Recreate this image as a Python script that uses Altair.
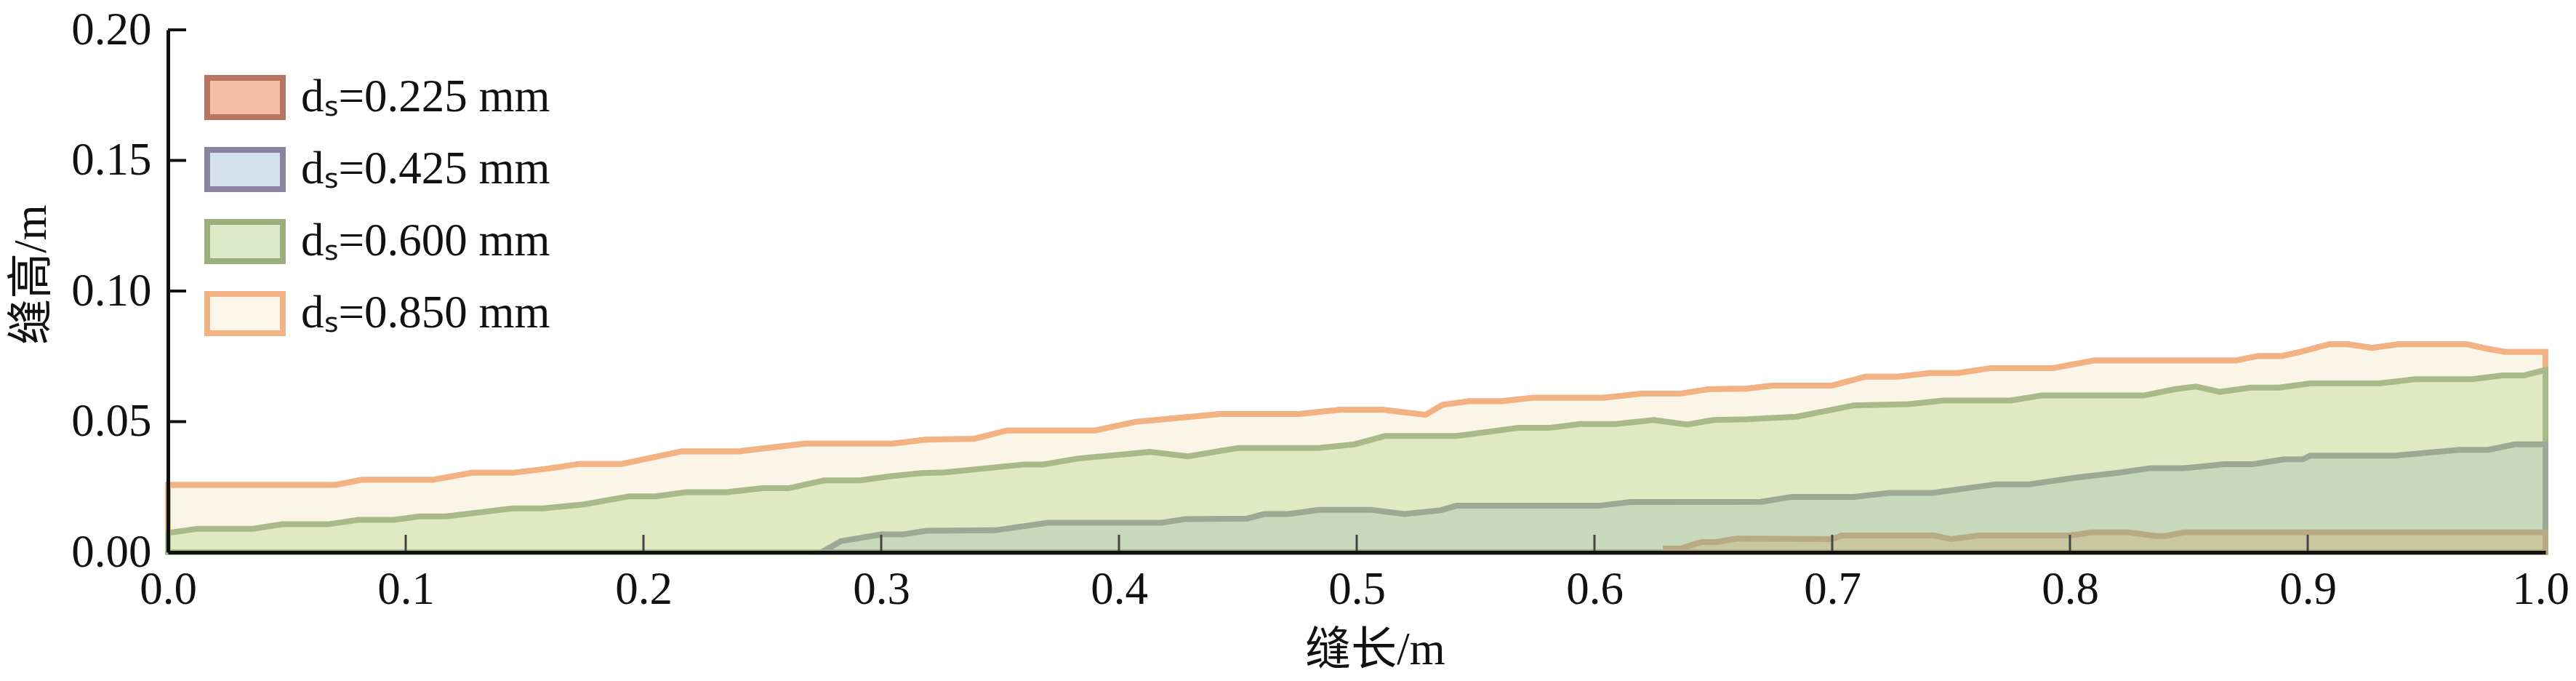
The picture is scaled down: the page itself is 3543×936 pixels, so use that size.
import altair as alt
import pandas as pd

# ---------------- data ----------------
labels = ["dₛ=0.225 mm", "dₛ=0.425 mm", "dₛ=0.600 mm", "dₛ=0.850 mm"]

x_850 = [0.0, 0.0706, 0.0814, 0.1115, 0.128, 0.145, 0.160, 0.173, 0.191, 0.216, 0.240, 0.268,
         0.305, 0.319, 0.339, 0.353, 0.390, 0.407, 0.424, 0.443, 0.476, 0.493, 0.511, 0.529,
         0.536, 0.547, 0.561, 0.574, 0.604, 0.620, 0.636, 0.648, 0.664, 0.675, 0.700, 0.714,
         0.728, 0.741, 0.753, 0.767, 0.793, 0.810, 0.870, 0.879, 0.889, 0.897, 0.909, 0.917,
         0.927, 0.938, 0.967, 0.975, 0.983, 1.0]
y_850 = [0.0258, 0.0258, 0.0277, 0.0277, 0.0304, 0.0304, 0.0320, 0.0338, 0.0338, 0.0386, 0.0386, 0.0416,
         0.0416, 0.0431, 0.0434, 0.0466, 0.0466, 0.0499, 0.0513, 0.0529, 0.0529, 0.0545, 0.0545, 0.0526,
         0.0564, 0.0578, 0.0578, 0.0591, 0.0591, 0.0607, 0.0607, 0.0624, 0.0626, 0.0638, 0.0638, 0.0672,
         0.0672, 0.0686, 0.0686, 0.0705, 0.0705, 0.0734, 0.0734, 0.0751, 0.0751, 0.0767, 0.0796, 0.0796,
         0.0782, 0.0796, 0.0796, 0.0780, 0.0767, 0.0767]

x_600 = [0.0, 0.0125, 0.036, 0.048, 0.0674, 0.080, 0.095, 0.106, 0.117, 0.145, 0.158, 0.175,
         0.194, 0.205, 0.218, 0.235, 0.250, 0.261, 0.276, 0.291, 0.304, 0.317, 0.327, 0.360,
         0.368, 0.383, 0.413, 0.429, 0.450, 0.484, 0.499, 0.512, 0.542, 0.568, 0.581, 0.594,
         0.609, 0.625, 0.639, 0.650, 0.664, 0.685, 0.709, 0.732, 0.747, 0.775, 0.788, 0.831,
         0.844, 0.853, 0.863, 0.876, 0.888, 0.901, 0.930, 0.945, 0.969, 0.982, 0.991, 1.0]
y_600 = [0.0074, 0.0090, 0.0090, 0.0107, 0.0107, 0.0124, 0.0124, 0.0137, 0.0137, 0.0168, 0.0168, 0.0183,
         0.0214, 0.0214, 0.0230, 0.0230, 0.0245, 0.0245, 0.0275, 0.0275, 0.0291, 0.0303, 0.0306, 0.0336,
         0.0336, 0.0359, 0.0384, 0.0367, 0.0399, 0.0399, 0.0413, 0.0445, 0.0445, 0.0476, 0.0476, 0.0491,
         0.0491, 0.0506, 0.0489, 0.0506, 0.0509, 0.0519, 0.0562, 0.0567, 0.0581, 0.0581, 0.0600, 0.0600,
         0.0624, 0.0634, 0.0614, 0.0630, 0.0630, 0.0646, 0.0646, 0.0662, 0.0662, 0.0677, 0.0677, 0.0698]

x_425 = [0.275, 0.283, 0.300, 0.309, 0.319, 0.348, 0.370, 0.418, 0.428, 0.454, 0.461, 0.471,
         0.484, 0.506, 0.520, 0.535, 0.542, 0.602, 0.615, 0.670, 0.683, 0.709, 0.724, 0.742,
         0.769, 0.783, 0.803, 0.821, 0.834, 0.848, 0.865, 0.877, 0.890, 0.898, 0.901, 0.937,
         0.964, 0.976, 0.987, 1.0]
y_425 = [0.0, 0.0042, 0.0068, 0.0068, 0.0082, 0.0084, 0.0113, 0.0113, 0.0127, 0.0129, 0.0146, 0.0146,
         0.0162, 0.0162, 0.0146, 0.0160, 0.0178, 0.0178, 0.0192, 0.0193, 0.0212, 0.0212, 0.0227, 0.0227,
         0.0260, 0.0260, 0.0286, 0.0305, 0.0322, 0.0322, 0.0337, 0.0337, 0.0356, 0.0356, 0.0370, 0.0370,
         0.0392, 0.0392, 0.0413, 0.0413]

x_225 = [0.630, 0.636, 0.645, 0.651, 0.660, 0.700, 0.704, 0.743, 0.750, 0.762, 0.800, 0.809,
         0.825, 0.836, 0.840, 0.848, 1.0]
y_225 = [0.0014, 0.0014, 0.0039, 0.0039, 0.0052, 0.0050, 0.0064, 0.0064, 0.0050, 0.0064, 0.0064, 0.0076,
         0.0076, 0.0062, 0.0062, 0.0076, 0.0076]

x_ticks = [0.1, 0.2, 0.3, 0.4, 0.5, 0.6, 0.7, 0.8, 0.9]
y_ticks = [0.05, 0.10, 0.15, 0.20]
x_tick_labels = [0.0, 0.1, 0.2, 0.3, 0.4, 0.5, 0.6, 0.7, 0.8, 0.9, 1.0]
y_tick_labels = [0.0, 0.05, 0.10, 0.15, 0.20]

# colours: as they appear in the plot, and as shown in the legend
plot_fill = {labels[0]: "#C8C79F", labels[1]: "#C8D9BB", labels[2]: "#E1E9C3", labels[3]: "#FAF5E7"}
plot_stroke = {labels[0]: "#B8AA84", labels[1]: "#9CA995", labels[2]: "#A8BA8A", labels[3]: "#F3B283"}
legend_fill = ["#F3BDA7", "#D5E2EE", "#DCE8C7", "#FBF6E8"]
legend_stroke = ["#B87562", "#8A82A0", "#9AAF7C", "#F3B283"]

rows = []
for lab, xs, ys in [(labels[0], x_225, y_225), (labels[1], x_425, y_425),
                    (labels[2], x_600, y_600), (labels[3], x_850, y_850)]:
    for a, b in zip(xs, ys):
        rows.append({"x": a, "y": b, "series": lab})
df = pd.DataFrame(rows)
xt = pd.DataFrame({"t": x_ticks})
yt = pd.DataFrame({"t": y_ticks})

# ---------------- chart ----------------
W, H = 3270, 718
SERIF = "Liberation Serif"
TITLEFONT = "Liberation Serif, Noto Sans CJK SC"

xscale = alt.Scale(domain=[0, 1], nice=False, zero=False)
yscale = alt.Scale(domain=[0, 0.2], nice=False, zero=False)
xaxis = alt.Axis(values=x_tick_labels, format=".1f", title="缝长/m", ticks=False, grid=False,
                 labelPadding=20, labelFlush=False, domainColor="#111111", domainWidth=5,
                 labelOffset={"condition": {"test": "datum.value >= 1", "value": -7}, "value": 0},
                 titlePadding=20, titleX=1660, zindex=1)
yaxis = alt.Axis(values=y_tick_labels, format=".2f", title="缝高/m", ticks=False, grid=False,
                 labelPadding=23, labelFlush=False, domainColor="#111111", domainWidth=5,
                 titlePadding=22, titleY=336, zindex=1)

X = alt.X("x:Q", scale=xscale, axis=xaxis)
Y = alt.Y("y:Q", scale=yscale, axis=yaxis, stack=None)

leg = alt.Legend(title=None, orient="none", legendX=67, legendY=54, padding=0,
                 symbolType="M-1.486,-0.771L1.486,-0.771L1.486,0.771L-1.486,0.771Z",
                 symbolSize=4900, symbolStrokeWidth=8, labelFont=SERIF, labelFontSize=63,
                 labelColor="#111111", labelOffset=38, rowPadding=13, labelLimit=0)

legend_layer = alt.Chart(df).mark_area(strokeWidth=8).encode(
    x=X, y=Y,
    fill=alt.Fill("series:N", scale=alt.Scale(domain=labels, range=legend_fill), legend=leg),
    stroke=alt.Stroke("series:N", scale=alt.Scale(domain=labels, range=legend_stroke), legend=leg),
)

area_layers = []
for lab in [labels[3], labels[2], labels[1], labels[0]]:
    area_layers.append(
        alt.Chart(df).transform_filter(alt.datum.series == lab).mark_area(
            fill=plot_fill[lab], stroke=plot_stroke[lab], strokeWidth=8
        ).encode(x=X, y=Y)
    )

xtick_layer = alt.Chart(xt).mark_rule(color="#444444", strokeWidth=3).encode(
    x=alt.X("t:Q", scale=xscale, axis=xaxis), y=alt.value(H), y2=alt.value(H - 24)
)
ytick_layer = alt.Chart(yt).mark_rule(color="#111111", strokeWidth=4).encode(
    y=alt.Y("t:Q", scale=yscale, axis=yaxis), x=alt.value(0), x2=alt.value(25)
)

chart = alt.layer(legend_layer, *area_layers, xtick_layer, ytick_layer).properties(
    width=W, height=H,
    autosize=alt.AutoSizeParams(type="none"),
    padding={"left": 223, "top": 33, "right": 34, "bottom": 169},
).configure_view(stroke=None).configure_axis(
    labelFont=SERIF, labelFontSize=63, labelColor="#111111",
    titleFont=TITLEFONT, titleFontSize=63, titleFontWeight="normal", titleColor="#111111",
)

chart.save("out.html", embed_options={"renderer": "svg", "actions": False})
